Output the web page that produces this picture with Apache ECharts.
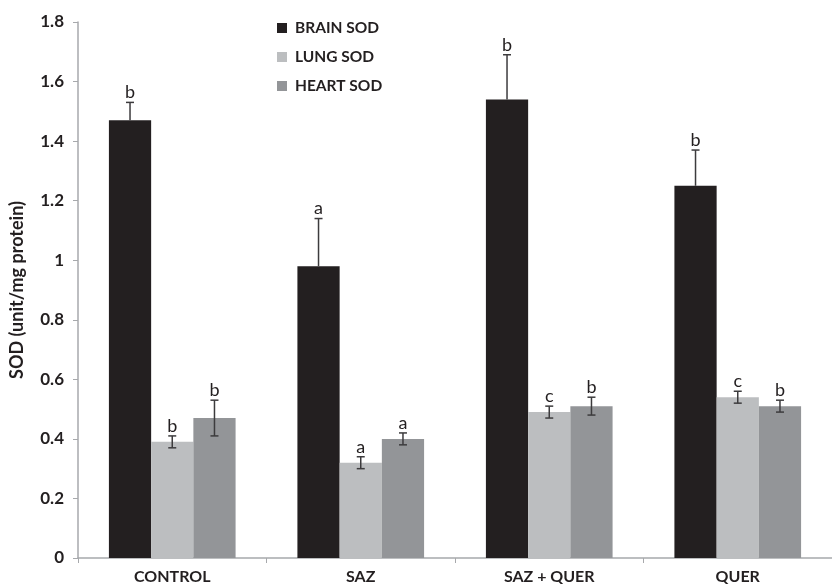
<!DOCTYPE html>
<html>
<head>
<meta charset="utf-8">
<script src="https://cdn.jsdelivr.net/npm/echarts@6/dist/echarts.min.js"></script>
<style>
  html, body { margin: 0; padding: 0; background: #fff; }
  #chart { width: 832px; height: 587px; }
</style>
</head>
<body>
<div id="chart"></div>
<script>
// Treatment groups
const categories = ['CONTROL', 'SAZ', 'SAZ + QUER', 'QUER'];

// Mean SOD activity (unit/mg protein) per tissue
const brainSod = [1.47, 0.98, 1.54, 1.25];
const lungSod = [0.39, 0.32, 0.49, 0.54];
const heartSod = [0.47, 0.40, 0.51, 0.51];

// Error bar half-widths
const brainErr = [0.06, 0.16, 0.15, 0.12];
const lungErr = [0.02, 0.02, 0.02, 0.02];
const heartErr = [0.06, 0.02, 0.03, 0.02];

// Significance letters
const brainLetters = ['b', 'a', 'b', 'b'];
const lungLetters = ['b', 'a', 'c', 'c'];
const heartLetters = ['b', 'a', 'b', 'b'];

// Y axis ticks
const yMin = 0, yMax = 1.8, yStep = 0.2;

const seriesNames = ['BRAIN SOD', 'LUNG SOD', 'HEART SOD'];
const seriesColors = ['#231f20', '#bcbec0', '#939598'];
const BAR_FRACTION = 0.224;
const FONT = 'Lato, "Open Sans", sans-serif';

function errorSeries(idx, values, errs, letters, upperOnly) {
  return {
    type: 'custom',
    name: seriesNames[idx] + ' error',
    z: 5,
    silent: true,
    data: values.map((v, i) => [i, v, errs[i]]),
    encode: { x: 0, y: 1 },
    renderItem: function (params, api) {
      const cat = api.value(0), v = api.value(1), e = api.value(2);
      const letter = letters[params.dataIndex];
      const band = api.size([1, 0])[0];
      const bw = band * BAR_FRACTION;
      const p = api.coord([cat, v]);
      const pTop = api.coord([cat, v + e]);
      const pBot = api.coord([cat, upperOnly ? v : v - e]);
      const x = p[0] + (idx - 1) * bw;
      const cap = 4;
      const style = { stroke: '#3c3b3d', lineWidth: 1.5 };
      const children = [
        { type: 'line', shape: { x1: x, y1: pTop[1], x2: x, y2: pBot[1] }, style: style },
        { type: 'line', shape: { x1: x - cap, y1: pTop[1], x2: x + cap, y2: pTop[1] }, style: style }
      ];
      if (!upperOnly) {
        children.push({ type: 'line', shape: { x1: x - cap, y1: pBot[1], x2: x + cap, y2: pBot[1] }, style: style });
      }
      children.push({
        type: 'text',
        style: {
          x: x, y: pTop[1] - 1,
          text: letter,
          fill: '#231f20',
          font: '18px ' + FONT,
          align: 'center',
          verticalAlign: 'bottom'
        }
      });
      return { type: 'group', children: children };
    }
  };
}

function barSeries(idx, values) {
  return {
    type: 'bar',
    name: seriesNames[idx],
    data: values,
    barWidth: (BAR_FRACTION * 100) + '%',
    barGap: '0%',
    itemStyle: { color: seriesColors[idx] },
    z: 2
  };
}

const chart = echarts.init(document.getElementById('chart'));
chart.setOption({
  animation: false,
  backgroundColor: '#ffffff',
  grid: { left: 77, right: -11, top: 22, bottom: 29, containLabel: false },
  legend: {
    data: seriesNames,
    orient: 'vertical',
    left: 272,
    top: 14,
    itemWidth: 10,
    itemHeight: 10,
    itemGap: 11,
    icon: 'rect',
    textStyle: { fontFamily: FONT, fontWeight: 'bold', fontSize: 15.5, lineHeight: 18, color: '#231f20', padding: [0, 0, 0, 3] }
  },
  xAxis: {
    type: 'category',
    data: categories,
    axisLine: { lineStyle: { color: '#a7a9ac', width: 1.5 } },
    axisTick: { show: true, alignWithLabel: false, length: 5, lineStyle: { color: '#a7a9ac' } },
    axisLabel: { fontFamily: FONT, fontWeight: 'bold', fontSize: 16, color: '#231f20', margin: 11 }
  },
  yAxis: {
    type: 'value',
    min: yMin,
    max: yMax,
    interval: yStep,
    name: 'SOD (unit/mg protein)',
    nameLocation: 'middle',
    nameGap: 52,
    nameTextStyle: { fontFamily: FONT, fontWeight: 'bold', fontSize: 18, color: '#231f20' },
    axisLine: { show: true, lineStyle: { color: '#a7a9ac', width: 1.5 } },
    axisTick: { show: true, length: 5, lineStyle: { color: '#a7a9ac' } },
    axisLabel: { fontFamily: FONT, fontWeight: 'bold', fontSize: 17, color: '#231f20', margin: 14 },
    splitLine: { show: false }
  },
  series: [
    barSeries(0, brainSod),
    barSeries(1, lungSod),
    barSeries(2, heartSod),
    errorSeries(0, brainSod, brainErr, brainLetters, true),
    errorSeries(1, lungSod, lungErr, lungLetters, false),
    errorSeries(2, heartSod, heartErr, heartLetters, false)
  ]
});
</script>
</body>
</html>
